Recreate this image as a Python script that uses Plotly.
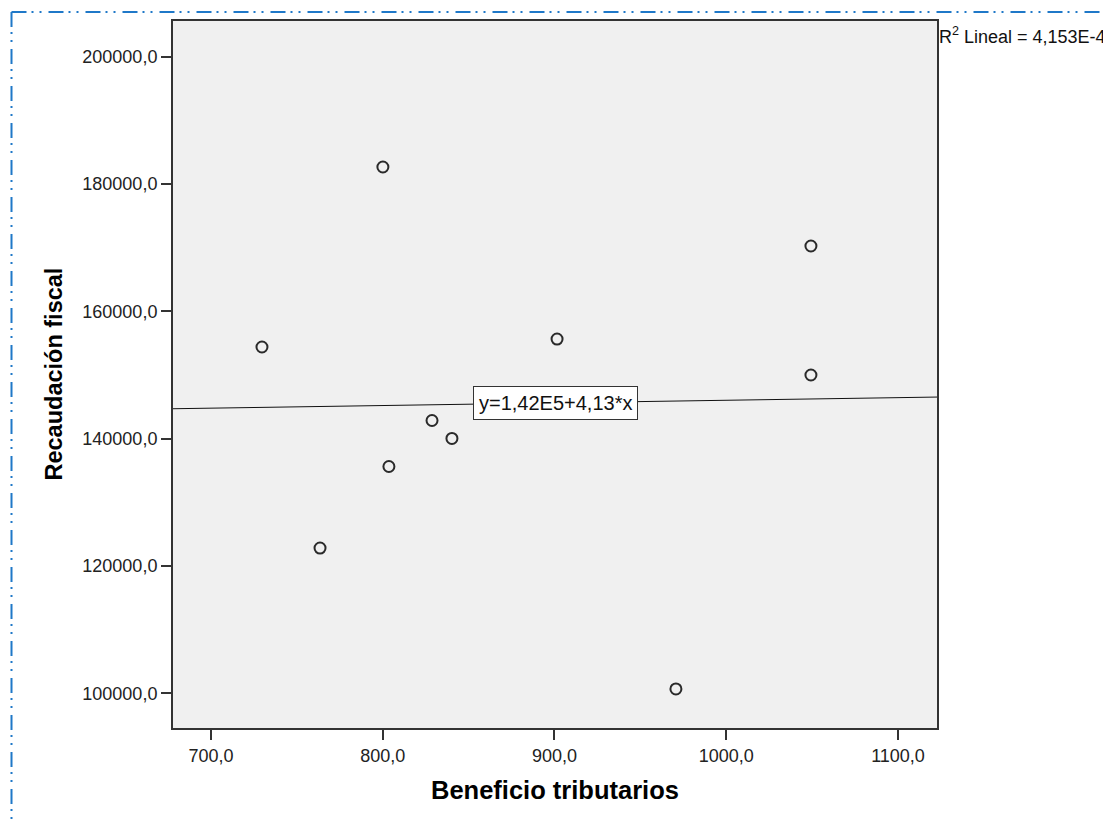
import plotly.graph_objects as go

# Data
beneficio = [729.7, 800.1, 763.5, 803.6, 828.7, 840.3, 901.5, 970.7, 1049.3, 1049.3]
recaudacion = [154400, 182670, 122820, 135630, 142850, 140030, 155650, 100680, 170260, 150000]

fit_intercept = 141900.0
fit_slope = 4.13
fit_label = "y=1,42E5+4,13*x"
r2_label = "R<sup>2</sup> Lineal = 4,153E-4"

x_ticks = [700, 800, 900, 1000, 1100]
x_ticktext = ["700,0", "800,0", "900,0", "1000,0", "1100,0"]
y_ticks = [100000, 120000, 140000, 160000, 180000, 200000]
y_ticktext = ["100000,0", "120000,0", "140000,0", "160000,0", "180000,0", "200000,0"]

x_range = [677.9, 1122.7]
y_range = [94549, 205608]

FONT = "Liberation Sans, Arial, sans-serif"

# page offset of the figure inside the browser body (default 8px margin)
OFF = 8

fig = go.Figure()

# regression line across the whole x range
line_x = list(x_range)
line_y = [fit_intercept + fit_slope * v for v in line_x]
fig.add_trace(go.Scatter(x=line_x, y=line_y, mode="lines",
                         line=dict(color="#111111", width=1), hoverinfo="skip",
                         showlegend=False))

fig.add_trace(go.Scatter(x=beneficio, y=recaudacion, mode="markers",
                         marker=dict(symbol="circle-open", size=11, color="#2a2a2a",
                                     line=dict(width=2, color="#2a2a2a")),
                         showlegend=False))

mid_x = (x_range[0] + x_range[1]) / 2
fig.add_annotation(x=mid_x, y=fit_intercept + fit_slope * mid_x, xref="x", yref="y",
                   text=fit_label, showarrow=False,
                   font=dict(family=FONT, size=20, color="#111111"),
                   bgcolor="white", bordercolor="#333333", borderwidth=1, borderpad=5)

fig.add_annotation(x=1, y=1, xref="paper", yref="paper", xanchor="left", yanchor="middle",
                   yshift=-14, xshift=0, text=r2_label, showarrow=False,
                   font=dict(family=FONT, size=18, color="#111111"))

fig.add_annotation(x=0.5, y=0, xref="paper", yref="paper", xanchor="center", yanchor="middle",
                   yshift=-62, text="<b>Beneficio tributarios</b>", showarrow=False,
                   font=dict(family=FONT, size=25.5, color="#000000"))

fig.add_annotation(x=0, y=0.5, xref="paper", yref="paper", xanchor="center", yanchor="middle",
                   xshift=-120, textangle=-90, text="<b>Recaudación fiscal</b>", showarrow=False,
                   font=dict(family=FONT, size=23.5, color="#000000"))

# dash-dot-dot outer border (top and left edges); positions in screen pixels
W, H = 764.0, 707.0
L, T = 173.0, 21.0
def px_x(p):
    return (p - L) / W
def px_y(p):
    return (T + H - p) / H
dash = "15px,5px,2px,6px,2px,7px"
fig.add_shape(type="line", xref="paper", yref="paper",
              x0=px_x(11.5), x1=px_x(1120), y0=px_y(12), y1=px_y(12),
              line=dict(color="#1f78c8", width=2, dash=dash))
fig.add_shape(type="line", xref="paper", yref="paper",
              x0=px_x(11.5), x1=px_x(11.5), y0=px_y(12), y1=px_y(830),
              line=dict(color="#1f78c8", width=2, dash=dash))

axis_common = dict(showgrid=False, zeroline=False, showline=True, linecolor="#333333",
                   linewidth=2, mirror=True, ticks="outside", ticklen=10, tickwidth=2,
                   tickcolor="#333333",
                   tickfont=dict(family=FONT, size=18, color="#222222"))

fig.update_xaxes(range=x_range, tickvals=x_ticks, ticktext=x_ticktext, **axis_common)
fig.update_yaxes(range=y_range, tickvals=y_ticks, ticktext=y_ticktext, **axis_common)

fig.update_layout(width=1111 - OFF, height=820 - OFF,
                  margin=dict(l=L - OFF, r=1111 - L - W, t=T - OFF, b=820 - T - H),
                  plot_bgcolor="#f0f0f0", paper_bgcolor="white",
                  font=dict(family=FONT))

fig.write_html("out.html")
